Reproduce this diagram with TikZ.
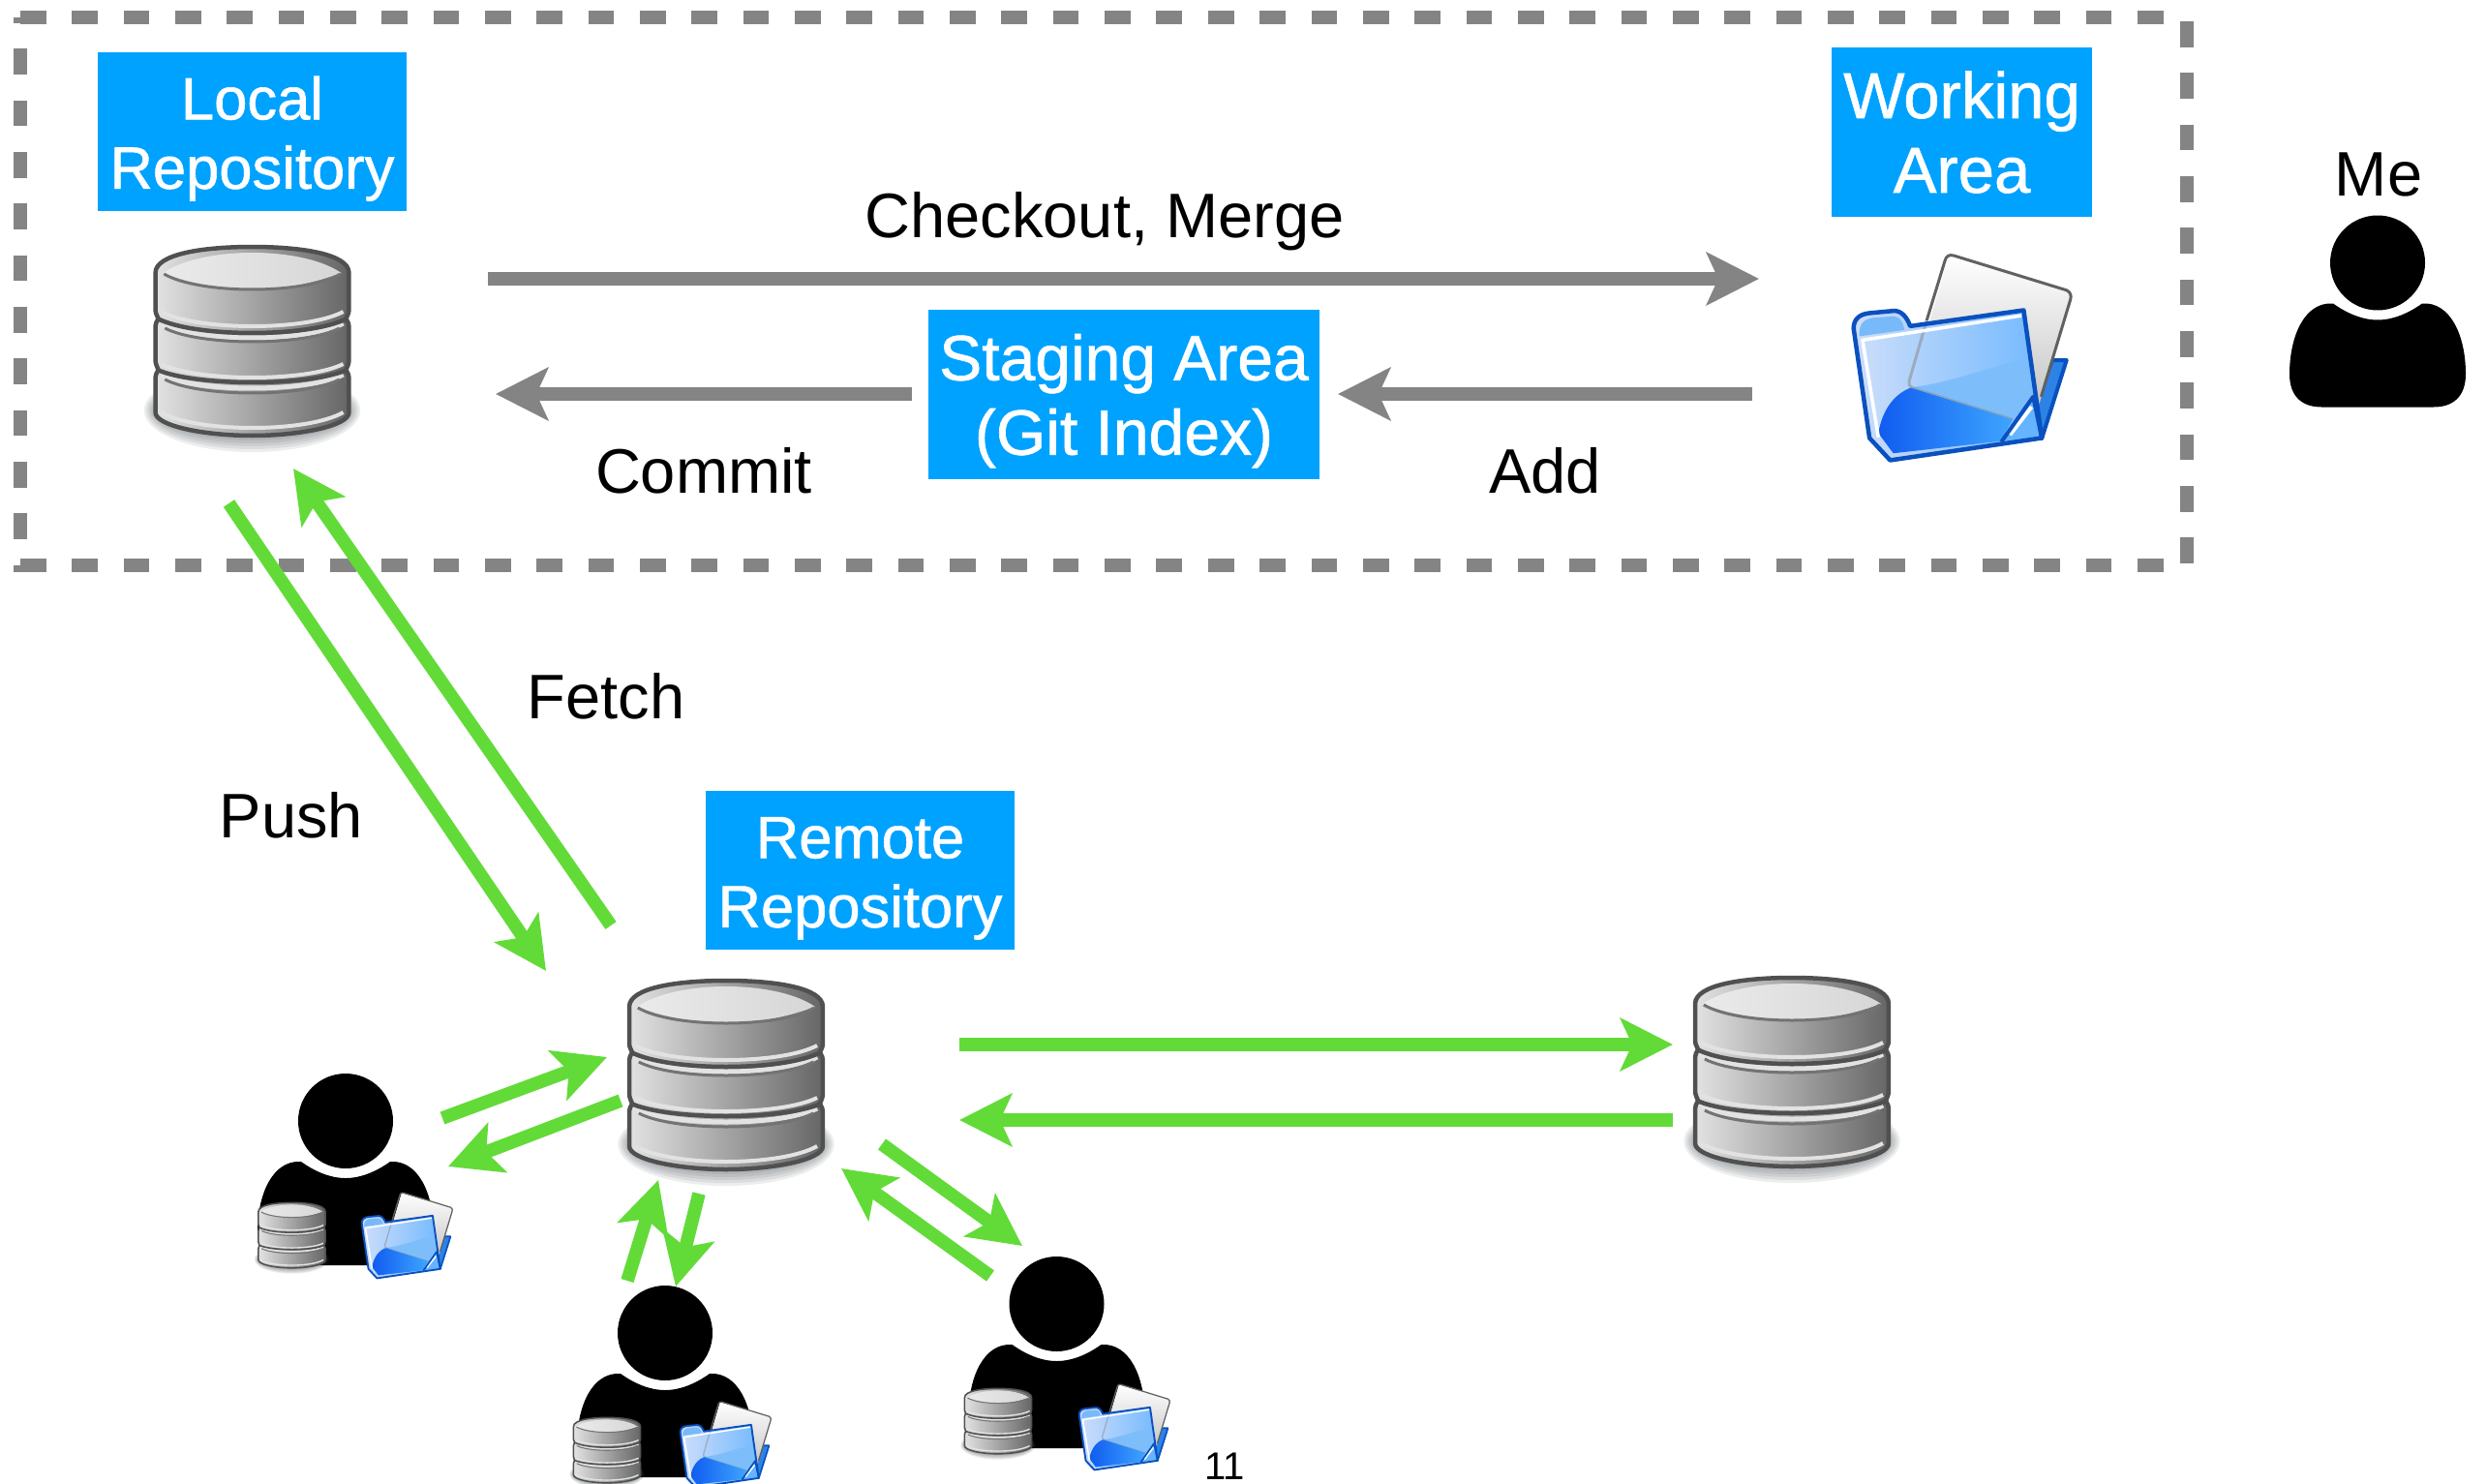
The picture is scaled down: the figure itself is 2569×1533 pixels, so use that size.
\documentclass[tikz,border=0pt]{standalone}
\usepackage{fontspec}
\setmainfont{Liberation Sans}
\newfontfamily\boxfont[FakeBold=1]{Liberation Sans}
\usetikzlibrary{arrows.meta}
\definecolor{boxblue}{HTML}{00A2FF}
\definecolor{linegray}{HTML}{848484}
\definecolor{linegreen}{HTML}{62DB38}
\definecolor{dbdark}{HTML}{505050}
\definecolor{dblight}{HTML}{E2E2E2}
\definecolor{dbshade}{RGB}{70,80,84}
\definecolor{foldline}{HTML}{0A50BE}
\definecolor{foldflap}{RGB}{45,130,230}
\definecolor{foldleft}{RGB}{205,222,250}
\definecolor{foldright}{RGB}{115,185,255}
\definecolor{foldtab}{RGB}{120,185,250}
\definecolor{foldupper}{RGB}{125,190,250}
\definecolor{foldlow}{RGB}{16,92,240}
\definecolor{foldhigh}{RGB}{62,165,255}
\definecolor{foldcorner}{RGB}{100,180,255}
\newcommand{\fsz}[1]{\fontsize{#1}{#1}\selectfont}
\tikzset{
  graybar/.style={draw=linegray,line width=13.6pt,-{Stealth[length=54pt,width=54pt,inset=12pt]}},
  greenbar/.style={draw=linegreen,line width=13.6pt,-{Stealth[length=54pt,width=54pt,inset=12pt]}},
  dashseg/.style={draw=linegray,line width=13.5pt,dash pattern=on 26.67pt off 26.67pt},
  bluebox/.style={fill=boxblue,text=white,inner sep=0pt,align=center},
  lbl/.style={inner sep=0pt,anchor=base,text=black,font=\fsz{65}},
}
% arc across a database disc
\newcommand{\dbarc}[4]{\draw[#4] (-#1,#2) .. controls ({-.6*#1},{#2+(#3-#2)*1.333}) and ({.6*#1},{#2+(#3-#2)*1.333}) .. (#1,#2);}
\newcommand{\dbicon}[3]{%
\begin{scope}[shift={(#1,#2)},scale=#3,xscale=.98]
  \def\LW{#3}
  \foreach \i in {0,...,7}{\fill[dbshade,opacity=.10] (0,170) ellipse [x radius={114-2.4*\i}, y radius={43-3*\i}];}
  \path[left color=dblight,middle color=black!32,right color=black!60]
    (-102,28) .. controls (-102,8) and (-50,1) .. (0,1) .. controls (50,1) and (102,8) .. (102,28)
    -- (102,66) .. controls (102,70) and (100,72) .. (99,75) .. controls (101,78) and (102,81) .. (102,85)
    -- (102,118) .. controls (102,122) and (100,125) .. (99,128) .. controls (101,131) and (102,134) .. (102,138)
    -- (102,172) .. controls (102,186) and (50,196) .. (0,196) .. controls (-50,196) and (-102,186) .. (-102,172)
    -- (-102,138) .. controls (-102,134) and (-101,131) .. (-99,128) .. controls (-100,125) and (-102,122) .. (-102,118)
    -- (-102,85) .. controls (-102,81) and (-101,78) .. (-99,75) .. controls (-100,72) and (-102,70) .. (-102,66) -- cycle;
  \path[left color=black!8,right color=black!16]
    (-94,28) .. controls (-70,12) and (-30,7) .. (0,7) .. controls (30,7) and (70,12) .. (94,28)
    .. controls (60,40) and (30,45) .. (0,45) .. controls (-30,45) and (-60,40) .. (-94,28) -- cycle;
  \dbarc{93}{29}{45}{draw=black!55,line width=\LW*3pt}
  \dbarc{96}{68}{83}{draw=dblight,line width=\LW*4pt}
  \dbarc{96}{80}{95}{draw=dblight,line width=\LW*5pt}
  \dbarc{100}{75}{90}{draw=dbdark,line width=\LW*4.5pt}
  \dbarc{92}{85}{99}{draw=black!55,line width=\LW*3pt}
  \dbarc{96}{122}{136}{draw=dblight,line width=\LW*4pt}
  \dbarc{96}{133}{147}{draw=dblight,line width=\LW*5pt}
  \dbarc{100}{128}{141}{draw=dbdark,line width=\LW*4.5pt}
  \dbarc{92}{138}{152}{draw=black!55,line width=\LW*3pt}
  \dbarc{96}{172}{188}{draw=dblight,line width=\LW*4pt}
  \draw[dbdark,line width=\LW*4.5pt]
    (-102,28) .. controls (-102,8) and (-50,1) .. (0,1) .. controls (50,1) and (102,8) .. (102,28)
    -- (102,66) .. controls (102,70) and (100,72) .. (99,75) .. controls (101,78) and (102,81) .. (102,85)
    -- (102,118) .. controls (102,122) and (100,125) .. (99,128) .. controls (101,131) and (102,134) .. (102,138)
    -- (102,172) .. controls (102,186) and (50,196) .. (0,196) .. controls (-50,196) and (-102,186) .. (-102,172)
    -- (-102,138) .. controls (-102,134) and (-101,131) .. (-99,128) .. controls (-100,125) and (-102,122) .. (-102,118)
    -- (-102,85) .. controls (-102,81) and (-101,78) .. (-99,75) .. controls (-100,72) and (-102,70) .. (-102,66) -- cycle;
\end{scope}}
\newcommand{\foldericon}[3]{%
\begin{scope}[shift={(#1+1.7*#3,#2+1.7*#3)},scale=#3/3*.985,shift={(-100,-92)}]
  \def\LW{#3}
  % back flap
  \filldraw[fill=foldflap,draw=foldline,line width=\LW*4pt,line join=round]
    (725,425) -- (770,425) -- (692,672) -- (660,600) -- cycle;
  % paper
  \path[top color=white,bottom color=black!25,shading=axis]
    (400,96) -- (770,205) .. controls (785,212) and (785,225) .. (782,235) -- (685,560) -- (600,612) -- (278,510) -- cycle;
  \draw[black!62,line width=\LW*3pt,line join=round]
    (690,540) -- (782,235) .. controls (785,225) and (785,212) .. (770,205) -- (415,96) .. controls (400,92) and (392,98) .. (388,110) -- (330,300);
  % folder front
  \path[left color=foldleft,right color=foldright]
    (100,325) .. controls (100,295) and (120,280) .. (150,277) -- (225,270) .. controls (250,268) and (268,290) .. (278,318)
    -- (635,268) -- (692,670) -- (215,740) -- (150,670) -- cycle;
  % tab
  \fill[foldtab] (118,350) .. controls (115,310) and (135,295) .. (160,292) -- (225,287) .. controls (245,287) and (255,305) .. (260,330) -- cycle;
  % upper light swoosh
  \fill[foldupper] (280,510) .. controls (400,500) and (540,440) .. (645,420) -- (665,540) -- (600,612) -- cycle;
  % paper edge through the folder
  \draw[black!45,opacity=.55,line width=\LW*3pt] (330,300) -- (275,490) .. controls (272,505) and (280,512) .. (295,516) -- (600,612);
  % lower bright swoosh
  \path[left color=foldlow,right color=foldhigh]
    (178,655) .. controls (190,580) and (230,530) .. (280,512) -- (600,612) -- (562,680) -- (225,718) -- cycle;
  % corner fold
  \fill[foldcorner] (665,545) -- (685,665) -- (565,680) -- cycle;
  \draw[white,line width=\LW*4pt] (592,660) -- (660,572);
  % white edges
  \draw[white,line width=\LW*3.5pt,line join=round] (628,285) -- (128,362) -- (178,668);
  % outline
  \draw[foldline,line width=\LW*4pt,line join=round]
    (565,682) -- (665,540) -- (692,670);
  \draw[foldline,line width=\LW*4.5pt,line join=round]
    (100,325) .. controls (100,295) and (120,280) .. (150,277) -- (225,270) .. controls (250,268) and (268,290) .. (278,318)
    -- (635,268) -- (692,670) -- (215,740) -- (150,670) -- cycle;
\end{scope}}
\newcommand{\personicon}[2]{%
\begin{scope}[shift={(#1,#2)}]
  \fill[black] (0,0) circle [radius=49];
  \fill[black] (-46,42) .. controls (-32,52) and (-16,59) .. (0,59) .. controls (16,59) and (32,52) .. (46,42)
    .. controls (75,40) and (91,75) .. (91,115) .. controls (91,138) and (78,149) .. (58,149)
    -- (-58,149) .. controls (-78,149) and (-91,138) .. (-91,115) .. controls (-91,75) and (-75,40) .. (-46,42) -- cycle;
\end{scope}}
\begin{document}
\begin{tikzpicture}[x=1pt,y=-1pt]
\useasboundingbox (0,0) rectangle (2569,1533);
\fill[white] (0,0) rectangle (2569,1533);

% dashed frame
\coordinate (fTL) at (21,18);
\coordinate (fTR) at (2259,18);
\coordinate (fBR) at (2259,584);
\coordinate (fBL) at (21,584);
\draw[dashseg] (fTL) -- (2237,18);
\draw[dashseg,dash phase=21pt] (fTL) -- (21,591);
\draw[dashseg] (2259,22) -- (fBR);
\draw[dashseg] (fBL) -- (2237,584);

% icons
\dbicon{260.5}{254}{1}
\foldericon{1913}{261}{1}
\personicon{2456}{271.5}
\dbicon{750}{1012}{1}
\dbicon{1851}{1009}{1}
\personicon{357}{1158}
\dbicon{301.5}{1242}{.346}
\foldericon{373}{1231}{.417}
\personicon{687}{1377}
\dbicon{627}{1464}{.346}
\foldericon{702}{1447}{.417}
\personicon{1091.5}{1347}
\dbicon{1031}{1434}{.346}
\foldericon{1114}{1429}{.417}

% blue boxes
\node[bluebox,font=\boxfont\fsz{61.5},minimum width=319pt,minimum height=164pt] (localrepo) at (260.5,136) {\rule{0pt}{59pt}Local\\[10pt]Repository};
\node[bluebox,font=\boxfont\fsz{67},minimum width=269pt,minimum height=175pt] (workarea) at (2026.5,136.5) {Working\\[10pt]Area};
\node[bluebox,font=\boxfont\fsz{66},minimum width=404pt,minimum height=175pt] (staging) at (1161,407.5) {\rule{0pt}{61pt}Staging Area\\[11pt](Git Index)};
\node[bluebox,font=\boxfont\fsz{61.5},minimum width=319pt,minimum height=164pt] (remote) at (888.5,899) {\rule{0pt}{59pt}Remote\\[10pt]Repository};

% labels
\node[lbl] (lcheckout) at (1141,245) {Checkout, Merge};
\node[lbl] (lcommit) at (727,509) {Commit};
\node[lbl] (ladd) at (1596,509) {Add};
\node[lbl] (lfetch) at (626,742) {Fetch};
\node[lbl] (lpush) at (301,865) {Push};
\node[lbl] (lme) at (2457,203) {Me};
\node[inner sep=0pt,anchor=base,font=\fsz{40}] (lpage) at (1265,1528) {11};

% end points of the arrows
\coordinate (cmA) at (504,288);   \coordinate (cmB) at (1817,288);
\coordinate (coA) at (942,407);   \coordinate (coB) at (512,407);
\coordinate (adA) at (1810,407);  \coordinate (adB) at (1382,407);
\coordinate (puA) at (236.5,520); \coordinate (puB) at (564,1003);
\coordinate (feA) at (631,956);   \coordinate (feB) at (303,484);
\coordinate (p1A) at (991,1079);  \coordinate (p1B) at (1728,1079);
\coordinate (p2A) at (1728,1157); \coordinate (p2B) at (991,1157);
\coordinate (aA) at (457,1155);   \coordinate (aB) at (627,1092);
\coordinate (bA) at (641,1137);   \coordinate (bB) at (463,1205);
\coordinate (cA) at (648,1323);   \coordinate (cB) at (680,1219);
\coordinate (dA) at (722,1233);   \coordinate (dB) at (698,1329);
\coordinate (eA) at (911,1182);   \coordinate (eB) at (1056,1287);
\coordinate (fA) at (1023,1318);  \coordinate (fB) at (869,1207);

\draw[graybar] (cmA) -- (cmB);
\draw[graybar] (coA) -- (coB);
\draw[graybar] (adA) -- (adB);
\draw[greenbar] (puA) -- (puB);
\draw[greenbar] (feA) -- (feB);
\draw[greenbar] (p1A) -- (p1B);
\draw[greenbar] (p2A) -- (p2B);
\draw[greenbar] (aA) -- (aB);
\draw[greenbar] (bA) -- (bB);
\draw[greenbar] (cA) -- (cB);
\draw[greenbar] (dA) -- (dB);
\draw[greenbar] (eA) -- (eB);
\draw[greenbar] (fA) -- (fB);
\end{tikzpicture}
\end{document}
